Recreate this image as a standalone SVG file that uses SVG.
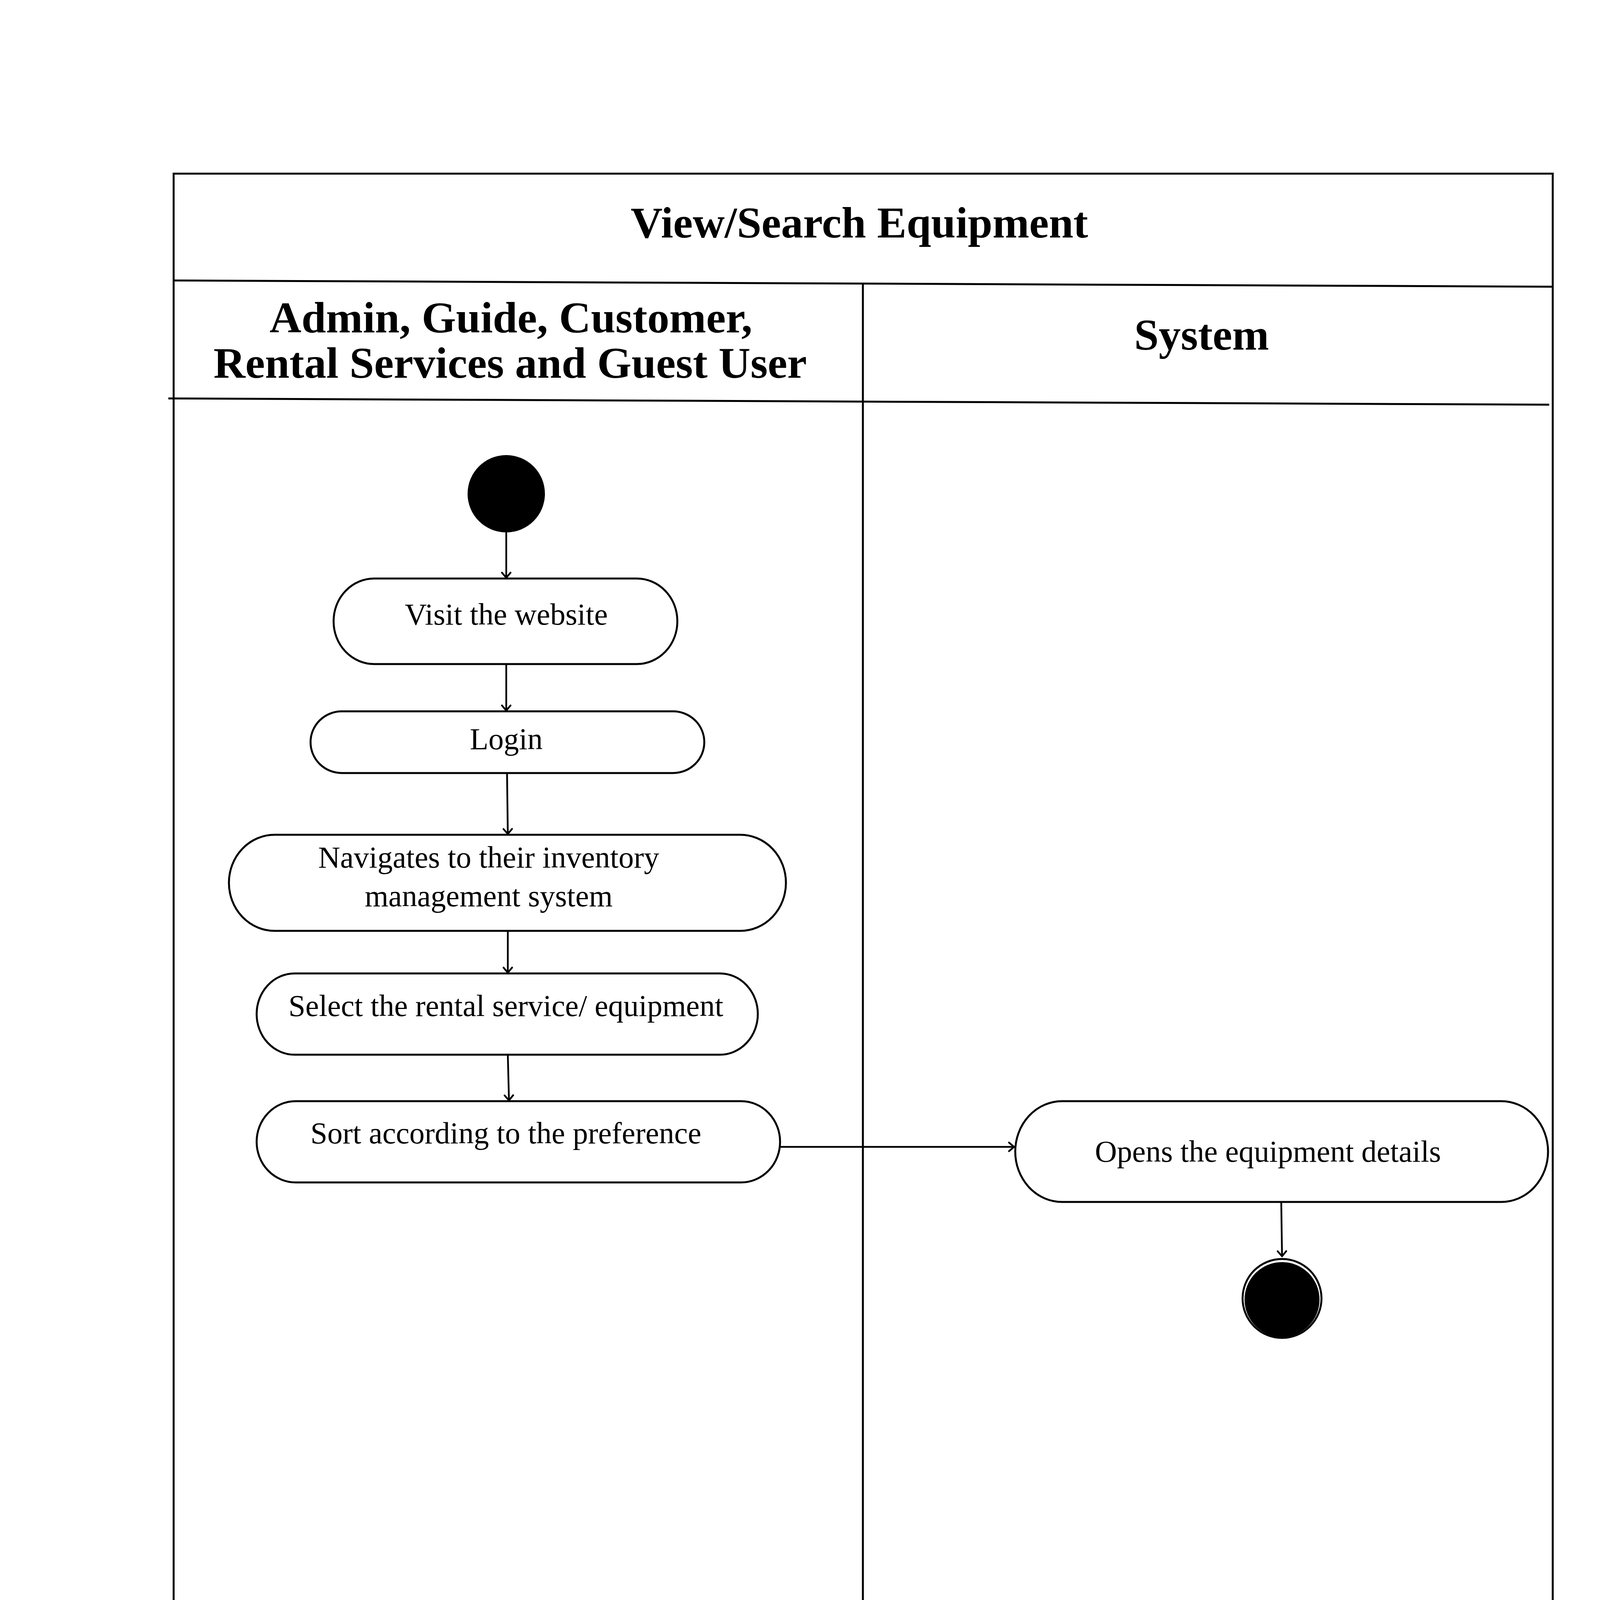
<svg xmlns="http://www.w3.org/2000/svg" width="4419" height="6250" viewBox="0 0 4419 6250">
<style>
.frame{fill:none;stroke:#000;stroke-width:5}
.ln{stroke:#000;stroke-width:5;fill:none}
.node{fill:#fff;stroke:#000;stroke-width:5}
.t{font-family:"Liberation Serif","Times New Roman",serif;font-size:78px;fill:#000;text-anchor:middle}
.h{font-family:"Liberation Serif","Times New Roman",serif;font-size:113px;font-weight:bold;fill:#000;text-anchor:middle}
.conn{stroke:#000;stroke-width:4.5;fill:none}
</style>
<defs>
<marker id="arr" markerUnits="userSpaceOnUse" markerWidth="40" markerHeight="40" viewBox="-20 -20 40 40" refX="0" refY="0" orient="auto">
<path d="M-13,-11 L0,0 L-13,11" fill="none" stroke="#000" stroke-width="4.5" stroke-linecap="round" stroke-linejoin="round"/>
</marker>
</defs>
<rect width="4419" height="6250" fill="#fff"/>
<g id="swimlanes">
<rect class="frame" x="444.5" y="444.5" width="3530.5" height="5361.5"/>
<line class="ln" x1="444" y1="718" x2="3975" y2="734"/>
<line class="ln" x1="431" y1="1020" x2="3966" y2="1036"/>
<line class="ln" x1="2209" y1="726" x2="2209" y2="5810"/>
<text class="h" x="2200" y="608">View/Search Equipment</text>
<text class="h" x="1308" y="851">Admin, Guide, Customer,</text>
<text class="h" x="1306" y="967">Rental Services and Guest User</text>
<text class="h" x="3076" y="895">System</text>
</g>
<g id="connectors">
<line class="conn" x1="1296" y1="1363" x2="1296" y2="1479" marker-end="url(#arr)"/>
<line class="conn" x1="1296" y1="1700" x2="1296" y2="1819" marker-end="url(#arr)"/>
<line class="conn" x1="1298" y1="1979" x2="1300" y2="2135" marker-end="url(#arr)"/>
<line class="conn" x1="1300" y1="2383" x2="1300" y2="2490" marker-end="url(#arr)"/>
<line class="conn" x1="1300" y1="2700" x2="1303" y2="2817" marker-end="url(#arr)"/>
<line class="conn" x1="1992" y1="2936" x2="2596" y2="2936" marker-end="url(#arr)"/>
<line class="conn" x1="3280" y1="3077" x2="3282" y2="3216" marker-end="url(#arr)"/>
</g>
<g id="start">
<circle cx="1296" cy="1264" r="99" fill="#000"/>
</g>
<g id="visit">
<rect class="node" x="854" y="1481" width="880" height="219" rx="104" ry="109"/>
<text class="t" x="1296" y="1599">Visit the website</text>
</g>
<g id="login">
<rect class="node" x="795" y="1821" width="1008" height="158" rx="80" ry="79"/>
<text class="t" x="1296" y="1918">Login</text>
</g>
<g id="navigate">
<rect class="node" x="586" y="2137" width="1426" height="246" rx="117" ry="123"/>
<text class="t" x="1251" y="2221">Navigates to their inventory</text>
<text class="t" x="1251" y="2320">management system</text>
</g>
<g id="select">
<rect class="node" x="657" y="2492" width="1283" height="208" rx="97" ry="104"/>
<text class="t" x="1295" y="2601">Select the rental service/ equipment</text>
</g>
<g id="sort">
<rect class="node" x="657" y="2819" width="1340" height="208" rx="100" ry="104"/>
<text class="t" x="1295" y="2927">Sort according to the preference</text>
</g>
<g id="opens">
<rect class="node" x="2599" y="2819" width="1364" height="258" rx="120" ry="129"/>
<text class="t" x="3246" y="2974">Opens the equipment details</text>
</g>
<g id="end">
<circle cx="3282" cy="3324" r="101" fill="none" stroke="#000" stroke-width="5"/>
<circle cx="3282" cy="3327" r="96" fill="#000"/>
</g>
</svg>
